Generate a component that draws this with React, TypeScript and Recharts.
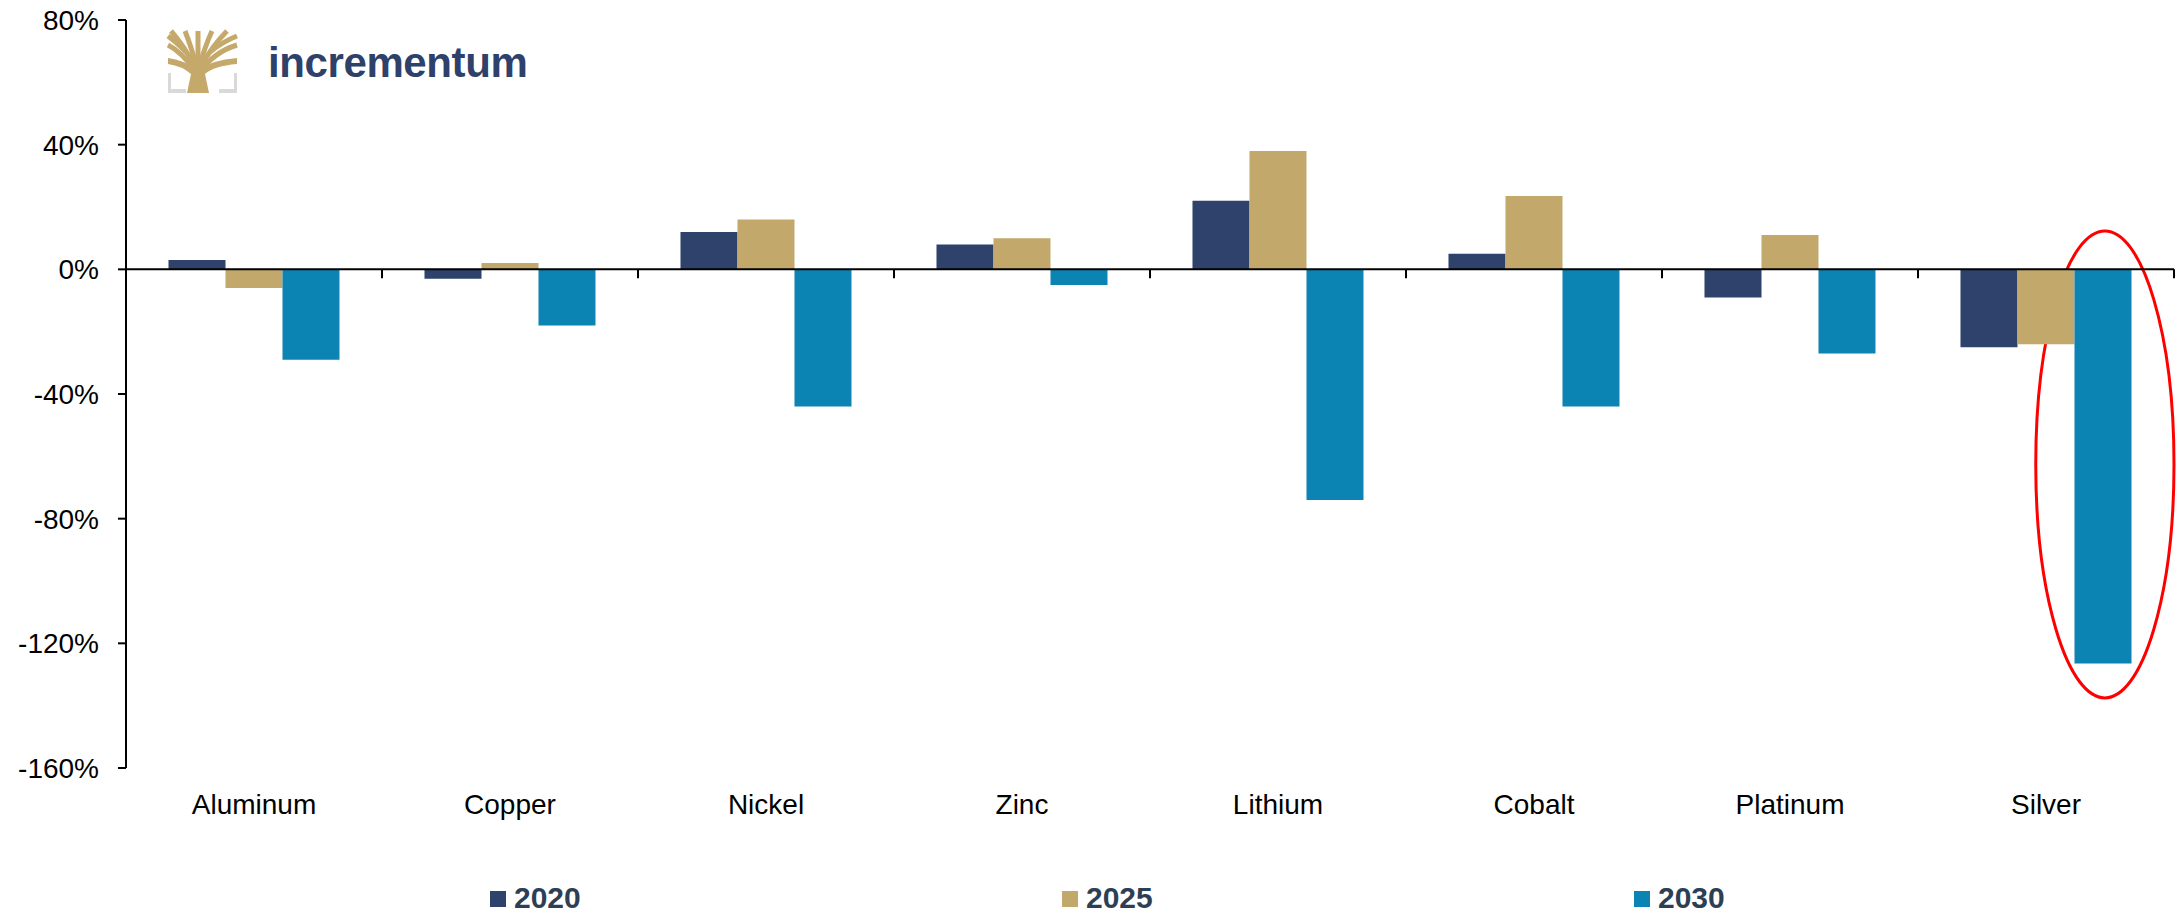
import React from 'react'
import { BarChart, Bar, XAxis, YAxis, ReferenceLine, ReferenceArea } from 'recharts'

// supply deficit as % of supply
const metals = ['Aluminum', 'Copper', 'Nickel', 'Zinc', 'Lithium', 'Cobalt', 'Platinum', 'Silver']
const deficit2020 = [3, -3, 12, 8, 22, 5, -9, -25]
const deficit2025 = [-6, 2, 16, 10, 38, 23.5, 11, -24]
const deficit2030 = [-29, -18, -44, -5, -74, -44, -27, -126.5]
const yTicks = [80, 40, 0, -40, -80, -120, -160]

const series = [
  { key: 'y2020', name: '2020', color: '#2E426B' },
  { key: 'y2025', name: '2025', color: '#C2A96B' },
  { key: 'y2030', name: '2030', color: '#0B84B4' },
]

const data = metals.map((metal, i) => ({
  metal,
  y2020: deficit2020[i],
  y2025: deficit2025[i],
  y2030: deficit2030[i],
}))

const FONT = "'Liberation Sans', Arial, sans-serif"

// zero line with small tick marks between the categories
const ZeroLine = (props: any) => {
  const { x1, y1, x2 } = props
  const step = (x2 - x1) / metals.length
  return (
    <g>
      <line x1={x1} y1={y1} x2={x2} y2={y1} stroke="#000" strokeWidth={2} />
      {metals.map((m, i) => (
        <line
          key={m}
          x1={x1 + step * (i + 1)}
          y1={y1}
          x2={x1 + step * (i + 1)}
          y2={y1 + 9}
          stroke="#000"
          strokeWidth={2}
        />
      ))}
    </g>
  )
}

// red ring around the 2030 silver bar
const Ring = (props: any) => {
  const { x, y, width, height } = props
  const left = x + width * 0.46
  const right = x + width
  return (
    <ellipse
      cx={(left + right) / 2}
      cy={y + height / 2}
      rx={(right - left) / 2}
      ry={Math.abs(height) / 2}
      fill="none"
      stroke="#FF0000"
      strokeWidth={3}
    />
  )
}

function Logo() {
  const gold = '#C5A96B'
  const grey = '#D9D9D9'
  return (
    <g>
      <rect x={168} y={73} width={3} height={20} fill={grey} />
      <rect x={168} y={89} width={18} height={4} fill={grey} />
      <rect x={234} y={73} width={3} height={20} fill={grey} />
      <rect x={219} y={89} width={18} height={4} fill={grey} />
      <path d="M187,93 L209,93 L205,74 Q214,66 237,64 L237,58 Q212,60 198,70 Q184,60 168,58 L168,64 Q182,66 191,74 Z" fill={gold} />
      <g stroke={gold} strokeWidth={5} fill="none">
        <path d="M196,72 Q182,52 168,45" />
        <path d="M200,72 Q214,52 237,45" />
        <path d="M196,68 Q184,46 171,31" />
        <path d="M200,68 Q212,46 227,31" />
        <path d="M197,68 Q191,46 185,31" />
        <path d="M199,68 Q205,46 212,31" />
        <path d="M198,70 L198,31" />
        <path d="M186,52 Q176,42 168,36" />
        <path d="M210,52 Q222,42 237,36" />
      </g>
      <text x={268} y={77} fontFamily={FONT} fontWeight={700} fontSize={42} fill="#2E416B" letterSpacing={-0.4}>
        incrementum
      </text>
    </g>
  )
}

export default function App() {
  return (
    <div style={{ position: 'absolute', left: 0, top: 0, width: 2181, height: 915, background: '#fff' }}>
      <BarChart
        width={2181}
        height={915}
        data={data}
        margin={{ top: 20, right: 7, left: 26, bottom: 87 }}
        barCategoryGap="16.6%"
        barGap={0}
      >
        <XAxis
          dataKey="metal"
          height={60}
          axisLine={false}
          tickLine={false}
          tickSize={0}
          tickMargin={26}
          tick={{ fill: '#000', fontSize: 28, fontFamily: FONT }}
          interval={0}
        />
        <YAxis
          width={100}
          domain={[-160, 80]}
          ticks={yTicks}
          interval={0}
          tickFormatter={(v: number) => `${v}%`}
          axisLine={{ stroke: '#000', strokeWidth: 2 }}
          tickLine={{ stroke: '#000', strokeWidth: 2 }}
          tickSize={8}
          tickMargin={19}
          tick={{ fill: '#000', fontSize: 28, fontFamily: FONT }}
        />
        {series.map((s) => (
          <Bar
            key={s.key}
            dataKey={s.key}
            name={s.name}
            fill={s.color}
            isAnimationActive={false}
          />
        ))}
        <ReferenceLine y={0} shape={ZeroLine} />
        <ReferenceArea
          x1="Silver"
          x2="Silver"
          y1={-137.5}
          y2={12.3}
          ifOverflow="visible"
          shape={Ring}
        />
      </BarChart>
      <svg
        width={2181}
        height={915}
        style={{ position: 'absolute', left: 0, top: 0, pointerEvents: 'none' }}
      >
        <Logo />
        {series.map((s, i) => (
          <g key={s.key}>
            <rect x={490 + i * 572} y={891} width={16} height={16} fill={s.color} />
            <text
              x={514 + i * 572}
              y={908}
              fontFamily={FONT}
              fontWeight={700}
              fontSize={30}
              fill="#2E3F55"
            >
              {s.name}
            </text>
          </g>
        ))}
      </svg>
    </div>
  )
}
